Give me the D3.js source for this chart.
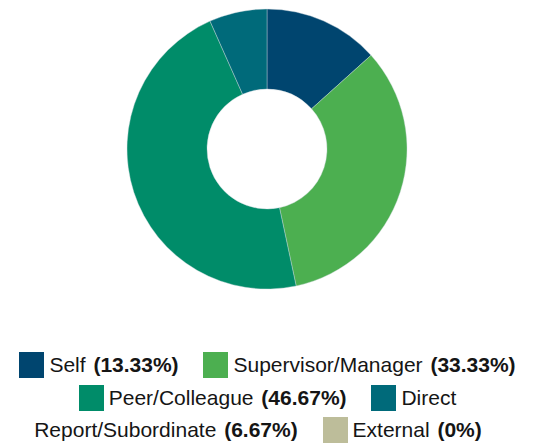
<!doctype html>
<html lang="en">
<head>
<meta charset="utf-8">
<title>Rater breakdown</title>
<script src="https://cdn.jsdelivr.net/npm/d3@7"></script>
<style>
  body { margin: 0; background: #fff; font-family: "Liberation Sans", Arial, sans-serif; }
  #chart { position: absolute; left: 0; top: 0; }
  #legend {
    position: absolute; left: -2px; top: 349px; width: 520px;
    text-align: center; font-size: 21px; line-height: 32.5px; color: #151515;
  }
  .nw { white-space: nowrap; }
  .sw { display: inline-block; width: 25px; height: 26px; vertical-align: -6px; margin-right: 5px; }
  .item { margin-left: 19px; }
  .pct { margin-left: 2px; }
</style>
</head>
<body>
<svg id="chart" width="540" height="300"></svg>
<div id="legend"></div>
<script>
  var labels = ["Self", "Supervisor/Manager", "Peer/Colleague", "Direct Report/Subordinate", "External"];
  var percents = [13.33, 33.33, 46.67, 6.67, 0];
  var pctText = ["13.33%", "33.33%", "46.67%", "6.67%", "0%"];
  var colors = ["#00456f", "#4caf50", "#008c69", "#006a7a", "#bdbd9a"];

  var svg = d3.select("#chart"),
    cx = 267, cy = 149, outer = 140, inner = 60;

  var g = svg.append("g").attr("transform", "translate(" + cx + "," + cy + ")");

  var data = labels.map(function (d, i) { return { name: d, value: percents[i], color: colors[i] }; });

  var pie = d3.pie().sort(null).value(function (d) { return d.value; });
  var arc = d3.arc().innerRadius(inner).outerRadius(outer);

  g.selectAll("path")
    .data(pie(data).filter(function (d) { return d.data.value > 0; }))
    .enter().append("path")
    .attr("d", arc)
    .attr("fill", function (d) { return d.data.color; })
    .attr("stroke", "#d0dadd")
    .attr("stroke-width", 0.4);

  var legend = d3.select("#legend");
  data.forEach(function (d, i) {
    var words = d.name.split(" ");
    var item = legend.append("span").attr("class", "item");
    var head = item.append("span").attr("class", "nw");
    head.append("span").attr("class", "sw").style("background", d.color);
    head.append("span").text(words[0]);
    item.append("span").text(" " + words.slice(1).concat("").join(" "));
    item.append("b").attr("class", "pct").text("(" + pctText[i] + ")");
    legend.node().appendChild(document.createTextNode(" "));
  });
</script>
</body>
</html>
